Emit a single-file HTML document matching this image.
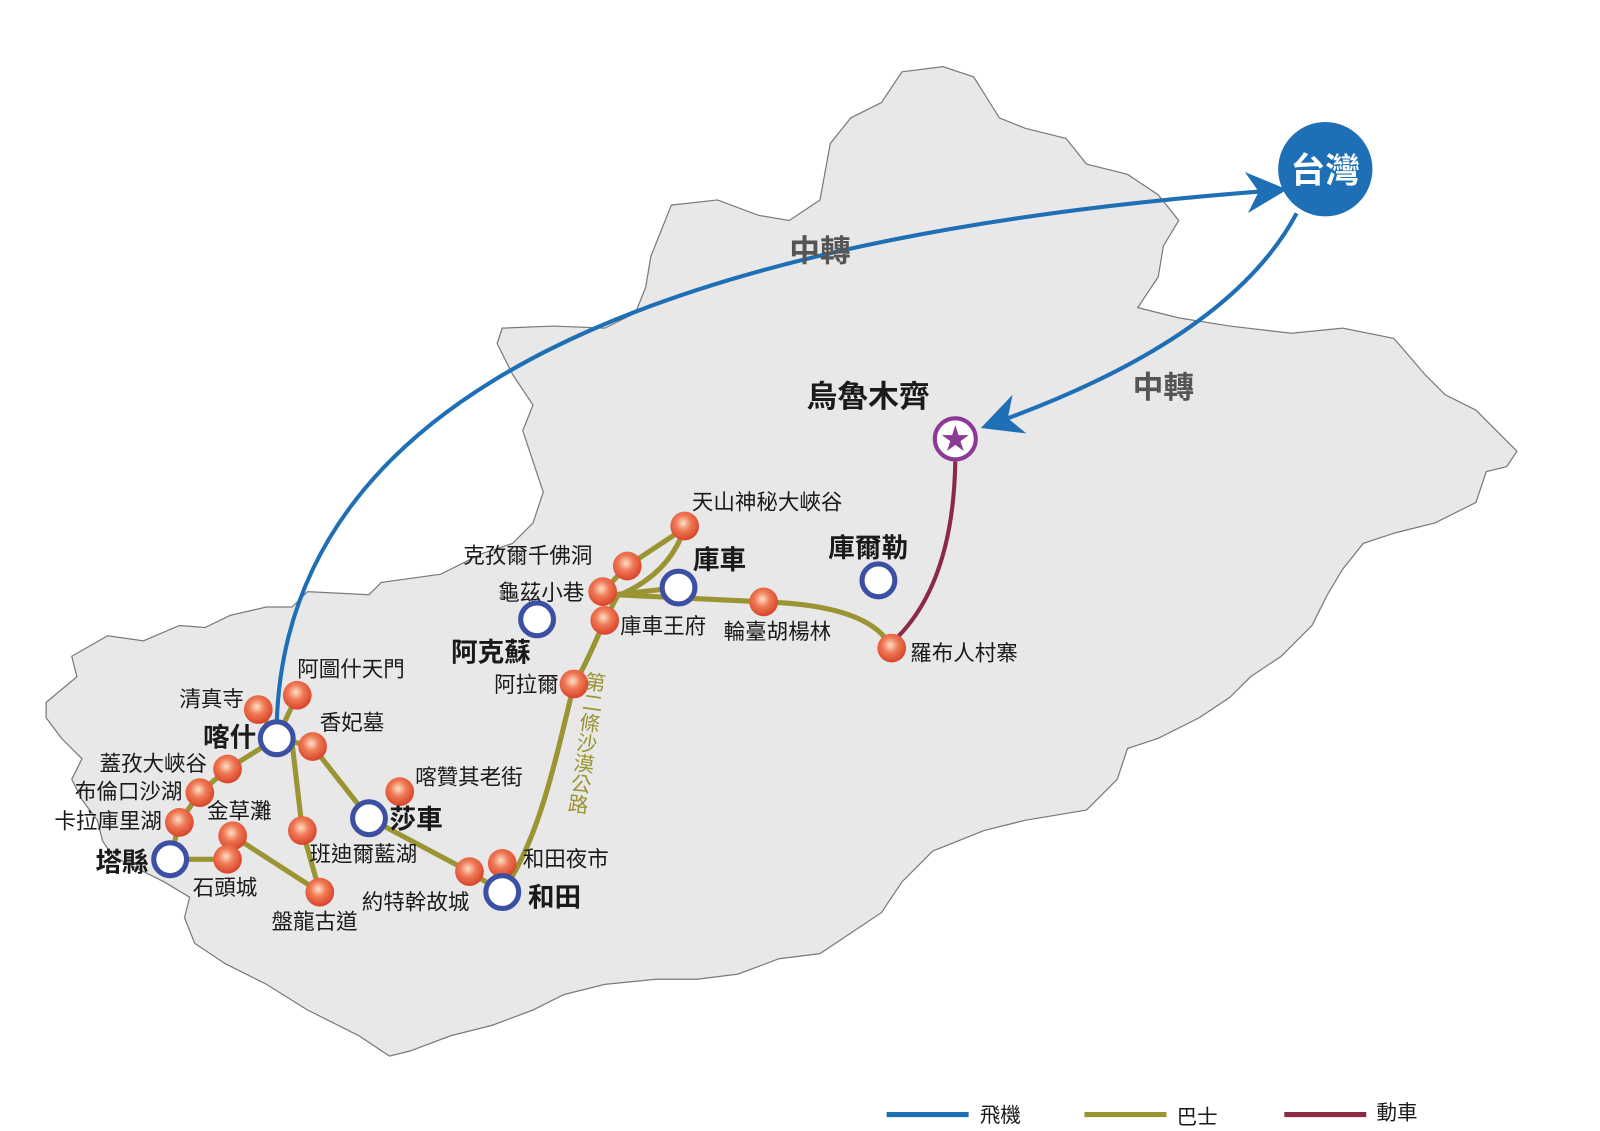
<!DOCTYPE html>
<html><head><meta charset="utf-8"><style>
html,body{margin:0;padding:0;background:#fff;}
svg{display:block;}
text{font-family:"Liberation Sans","Noto Sans CJK TC",sans-serif;fill:#1a1a1a;}
.b{font-weight:bold;}
</style></head><body>
<svg width="1600" height="1131" viewBox="0 0 1561 1103" preserveAspectRatio="none" xmlns="http://www.w3.org/2000/svg">
<defs>
<radialGradient id="rg" cx="45%" cy="40%" r="60%">
<stop offset="0" stop-color="#fde0c8"/><stop offset="0.45" stop-color="#ef7a55"/><stop offset="1" stop-color="#d8432a"/>
</radialGradient>
<marker id="ah" markerWidth="10" markerHeight="10" refX="6" refY="5" orient="auto" markerUnits="strokeWidth">
<path d="M0,0 L10,5 L0,10 L3,5 Z" fill="#1e6fb5"/>
</marker>
</defs>
<path d="M45,685 L75,660 L70,640 L105,620 L140,625 L175,610 L200,612 L225,600 L260,592 L285,592 L300,577 L360,580 L372,568 L430,560 L470,540 L500,530 L520,510 L530,480 L520,450 L510,420 L520,395 L500,365 L485,335 L490,320 L540,318 L590,320 L620,305 L630,280 L635,250 L655,200 L700,195 L740,210 L770,215 L800,195 L810,140 L830,115 L860,100 L880,70 L920,65 L950,75 L975,115 L1000,125 L1040,135 L1060,160 L1100,170 L1130,190 L1150,215 L1135,240 L1130,270 L1110,300 L1150,310 L1200,318 L1260,325 L1310,320 L1360,330 L1390,365 L1410,385 L1440,400 L1465,425 L1480,440 L1470,455 L1450,460 L1440,490 L1400,510 L1360,520 L1330,530 L1310,555 L1295,580 L1280,610 L1250,640 L1220,660 L1200,680 L1170,700 L1130,720 L1100,730 L1090,760 L1060,790 L1000,800 L960,810 L910,830 L880,860 L860,890 L830,910 L800,930 L760,935 L720,950 L680,955 L640,955 L590,960 L550,970 L520,985 L480,1000 L440,1010 L400,1025 L380,1030 L350,1010 L300,985 L260,960 L220,940 L190,920 L180,895 L185,875 L160,860 L130,845 L110,835 L100,820 L95,800 L80,780 L70,760 L80,740 L60,720 L45,700 Z" fill="#e8e8e8" stroke="#7a7a7a" stroke-width="1.2"/>
<g fill="none" stroke="#9a9433" stroke-width="5" stroke-linecap="round">
<path d="M870,632 Q850,590 745,587 L600,580"/>
<path d="M588,577 L612,552 L668,515"/>
<path d="M600,582 Q652,562 668,515"/>
<path d="M600,580 L662,573"/>
<path d="M603,580 L590,605 C575,640 565,660 560,667 C540,750 525,820 490,870"/>
<path d="M270,720 L290,678"/>
<path d="M270,720 L252,692"/>
<path d="M270,720 L305,728 L360,798 L458,850 L490,870"/>
<path d="M285,725 L295,810 L312,870"/>
<path d="M270,720 L222,750 L195,773 L175,802 L166,838 L222,838"/>
<path d="M227,815 L312,870"/>
<path d="M227,815 L222,838"/>
</g>
<path d="M270,705 C280,380 650,230 1240,186" fill="none" stroke="#1e6fb5" stroke-width="4" marker-end="url(#ah)"/>
<path d="M1265,208 Q1200,330 972,412" fill="none" stroke="#1e6fb5" stroke-width="4" marker-end="url(#ah)"/>
<path d="M932,450 Q930,570 872,625" fill="none" stroke="#8b2a44" stroke-width="4"/>
<g fill="url(#rg)">
<circle cx="668" cy="513" r="14"/><circle cx="612" cy="552" r="14"/><circle cx="588" cy="577" r="14"/><circle cx="590" cy="605" r="14"/>
<circle cx="745" cy="587" r="14"/><circle cx="870" cy="632" r="14"/><circle cx="560" cy="667" r="14"/><circle cx="490" cy="842" r="14"/>
<circle cx="458" cy="850" r="14"/><circle cx="390" cy="772" r="14"/><circle cx="252" cy="692" r="14"/><circle cx="290" cy="678" r="14"/>
<circle cx="305" cy="728" r="14"/><circle cx="222" cy="750" r="14"/><circle cx="195" cy="773" r="14"/><circle cx="175" cy="802" r="14"/>
<circle cx="227" cy="815" r="14"/><circle cx="222" cy="838" r="14"/><circle cx="295" cy="810" r="14"/><circle cx="312" cy="870" r="14"/>
</g>
<g fill="#fff" stroke="#3d4fa3" stroke-width="5">
<circle cx="270" cy="720" r="16"/><circle cx="166" cy="838" r="16"/><circle cx="360" cy="798" r="16"/><circle cx="490" cy="870" r="16"/>
<circle cx="524" cy="604" r="16"/><circle cx="662" cy="573" r="16"/><circle cx="857" cy="566" r="16"/>
</g>
<circle cx="932" cy="428" r="20" fill="#fff" stroke="#8b3a96" stroke-width="4"/>
<text x="932" y="438" text-anchor="middle" font-size="28" style="fill:#8b3a96">★</text>
<circle cx="1293" cy="165" r="46" fill="#1e6fb5"/>
<text x="1293" y="178" text-anchor="middle" font-size="34" class="b" style="fill:#fff">台灣</text>
<text x="770" y="255" font-size="30" class="b" style="fill:#555">中轉</text>
<text x="1105" y="388" font-size="30" class="b" style="fill:#555">中轉</text>
<text x="787" y="397" font-size="30" class="b">烏魯木齊</text>
<g font-size="21">
<text x="238" y="689" text-anchor="end">清真寺</text>
<text x="290" y="660">阿圖什天門</text>
<text x="312" y="712">香妃墓</text>
<text x="202" y="752" text-anchor="end">蓋孜大峽谷</text>
<text x="178" y="779" text-anchor="end">布倫口沙湖</text>
<text x="158" y="808" text-anchor="end">卡拉庫里湖</text>
<text x="202" y="798">金草灘</text>
<text x="188" y="873">石頭城</text>
<text x="265" y="906">盤龍古道</text>
<text x="302" y="840">班迪爾藍湖</text>
<text x="405" y="765">喀贊其老街</text>
<text x="353" y="887">約特幹故城</text>
<text x="510" y="845">和田夜市</text>
<text x="545" y="675" text-anchor="end">阿拉爾</text>
<text x="570" y="585" text-anchor="end">龜茲小巷</text>
<text x="452" y="549">克孜爾千佛洞</text>
<text x="605" y="618">庫車王府</text>
<text x="675" y="497">天山神秘大峽谷</text>
<text x="706" y="623">輪臺胡楊林</text>
<text x="888" y="644">羅布人村寨</text>
</g>
<g font-size="26" class="b">
<text x="250" y="728" text-anchor="end" class="b">喀什</text>
<text x="145" y="850" text-anchor="end" class="b">塔縣</text>
<text x="380" y="808" class="b">莎車</text>
<text x="515" y="884" class="b">和田</text>
<text x="440" y="645" class="b">阿克蘇</text>
<text x="676" y="555" class="b">庫車</text>
<text x="808" y="543" class="b">庫爾勒</text>
</g>
<g transform="rotate(8 580 655)">
<text x="580" y="655" font-size="20" style="fill:#9a9433;writing-mode:vertical-rl">第二條沙漠公路</text>
</g>
<line x1="865" y1="1087" x2="945" y2="1087" stroke="#1e6fb5" stroke-width="5"/>
<line x1="1058" y1="1087" x2="1138" y2="1087" stroke="#9a9433" stroke-width="5"/>
<line x1="1253" y1="1087" x2="1333" y2="1087" stroke="#8b2a44" stroke-width="5"/>
<g font-size="20">
<text x="956" y="1094">飛機</text><text x="1148" y="1096">巴士</text><text x="1343" y="1092">動車</text>
</g>
</svg>
</body></html>
